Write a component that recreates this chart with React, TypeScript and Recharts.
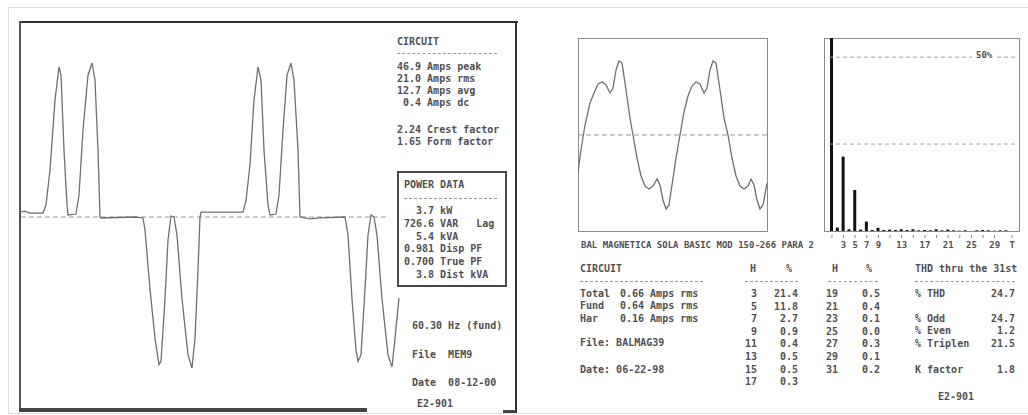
import React from 'react';
import { LineChart, Line, XAxis, YAxis, ReferenceLine, BarChart, Bar } from 'recharts';

// ---- Main current waveform (left panel), time in sample units, current in Amps
const mainTime = [0, 5, 10, 23, 26, 30, 35, 39, 41, 44, 47, 48, 56, 59, 63, 68, 72, 75, 78, 80, 81, 115, 123, 125, 130, 135, 139, 141, 145, 148, 151, 154, 157, 162, 168, 172, 175, 178, 180, 181, 223, 226, 230, 234, 238, 241, 244, 248, 250, 256, 259, 263, 267, 271, 274, 278, 280, 290, 300, 325, 328, 332, 336, 338, 341, 345, 348, 351, 354, 357, 362, 368, 372, 375, 379];
const mainAmps = [1.5, 1.8, 1.2, 1.2, 3.7, 14.3, 35.6, 45.7, 43.2, 20.4, 3.7, 0.6, 0.9, 6.7, 26.5, 43.2, 46.9, 41.7, 20.4, 0, -0.3, 0, -0.3, -4.0, -22.0, -37.0, -45.0, -44.0, -25.0, -7.0, 0.3, 0, -5.5, -25.0, -42.0, -46.0, -37.0, -16.0, 0, 1.5, 1.5, 5.0, 16.0, 35.6, 45.7, 41.7, 20.4, 3.7, 0.6, 0.9, 6.7, 26.5, 43.2, 46.9, 41.7, 20.4, 0, -0.6, -0.3, 0, -5.5, -25.0, -40.5, -44.0, -42.0, -22.0, -5.5, 0.6, 0, -5.5, -25.0, -42.0, -45.7, -37.0, -24.7];

// ---- Small voltage waveform (right panel)
const subTime = [0, 3, 7, 12, 16, 20, 24, 28, 32, 35, 38, 41, 44, 48, 52, 55, 59, 63, 67, 71, 75, 79, 82, 85, 88, 91, 94, 98, 102, 106, 110, 114, 118, 122, 126, 129, 132, 135, 138, 142, 146, 150, 154, 158, 162, 166, 170, 173, 176, 179, 182, 185, 189];
const subVolts = [-37, -15, 10, 32, 42, 51, 53, 50, 42, 47, 65, 74, 72, 45, 17, 0, -23, -41, -51, -54, -51, -44, -50, -65, -74, -70, -50, -23, 0, 23, 39, 49, 53, 51, 42, 47, 65, 74, 72, 45, 17, 0, -23, -41, -51, -54, -51, -44, -50, -65, -74, -70, -48];

// ---- Harmonic spectrum (% of fundamental)
const harmonicOrders = ['1', '2', '3', '4', '5', '6', '7', '8', '9', '10', '11', '12', '13', '14', '15', '16', '17', '18', '19', '20', '21', '22', '23', '24', '25', '26', '27', '28', '29', '30', '31', 'T'];
const harmonicPct = [100, 1.0, 21.4, 0.5, 11.8, 0.4, 2.7, 0.3, 0.9, 0.3, 0.4, 0.3, 0.5, 0.3, 0.5, 0.2, 0.3, 0.2, 0.5, 0.2, 0.4, 0.2, 0.1, 0.2, 0.0, 0.2, 0.3, 0.2, 0.1, 0.2, 0.2, 0];
const tickedOrders = ['1', '3', '5', '7', '9', '11', '13', '15', '17', '19', '21', '23', '25', '27', '29', 'T'];
const labelledOrders = ['3', '5', '7', '9', '13', '17', '21', '25', '29', 'T'];

// ---- Text tables
const circuitLines = ['46.9 Amps peak', '21.0 Amps rms', '12.7 Amps avg', ' 0.4 Amps dc'];
const factorLines = ['2.24 Crest factor', '1.65 Form factor'];
const powerLines = ['  3.7 kW', '726.6 VAR   Lag', '  5.4 kVA', '0.981 Disp PF', '0.700 True PF', '  3.8 Dist kVA'];
const ampsLabels = ['Total', 'Fund', 'Har'];
const ampsValues = ['0.66', '0.64', '0.16'];
const col1H = ['3', '5', '7', '9', '11', '13', '15', '17'];
const col1P = ['21.4', '11.8', '2.7', '0.9', '0.4', '0.5', '0.5', '0.3'];
const col2H = ['19', '21', '23', '25', '27', '29', '31'];
const col2P = ['0.5', '0.4', '0.1', '0.0', '0.3', '0.1', '0.2'];

const mainData = mainTime.map((t, i) => ({ t, amps: mainAmps[i] }));
const subData = subTime.map((t, i) => ({ t, v: subVolts[i] }));
const harmData = harmonicOrders.map((h, i) => ({ h, pct: harmonicPct[i] }));

const FONT = '"DejaVu Sans Mono", "Liberation Mono", monospace';
const INK = '#505050';

function T({ x, y, children, size = 10, right }: any) {
  const style: any = {
    position: 'absolute', top: y - 6, lineHeight: '12px', fontSize: size, fontFamily: FONT,
    color: INK, whiteSpace: 'pre', fontWeight: 'bold',
  };
  if (right) { style.right = 1028 - x; } else { style.left = x; }
  return <div style={style}>{children}</div>;
}

function Dash({ x1, x2, y }: any) {
  return <div style={{ position: 'absolute', left: x1, top: y, width: x2 - x1, borderTop: '1px dashed #9a9a9a' }} />;
}

function Box({ x, y, w, h, border }: any) {
  return <div style={{ position: 'absolute', left: x, top: y, width: w, height: h, border, boxSizing: 'border-box' }} />;
}

function HarmTick(props: any) {
  const { x, y, payload } = props;
  const v = payload.value;
  return (
    <g>
      {tickedOrders.includes(v) && <line x1={x} x2={x} y1={y + 4} y2={y + 7} stroke="#888" strokeWidth={1} />}
      {labelledOrders.includes(v) && (
        <text x={x} y={y + 17} textAnchor="middle" fontSize={9} fontFamily={FONT} fontWeight="bold" fill={INK}>{v}</text>
      )}
    </g>
  );
}

export default function App() {
  return (
    <div style={{ position: 'absolute', left: 0, top: 0, width: 1028, height: 415, background: '#fff', overflow: 'hidden' }}>
      {/* outer light frame */}
      <Box x={8} y={7} w={1024} h={407} border="1px solid #dcdcdc" />

      {/* left panel frame */}
      <div style={{ position: 'absolute', left: 19, top: 21, width: 499, height: 2, background: '#333' }} />
      <div style={{ position: 'absolute', left: 19, top: 21, width: 2, height: 390, background: '#555' }} />
      <div style={{ position: 'absolute', left: 515, top: 21, width: 2, height: 392, background: '#333' }} />
      <div style={{ position: 'absolute', left: 19, top: 408, width: 348, height: 4, background: '#444' }} />
      <div style={{ position: 'absolute', left: 503, top: 410, width: 13, height: 3, background: '#444' }} />

      {/* main waveform */}
      <div style={{ position: 'absolute', left: 20, top: 22 }}>
        <LineChart width={380} height={388} data={mainData} margin={{ top: 0, right: 0, bottom: 0, left: 0 }}>
          <XAxis type="number" dataKey="t" domain={[0, 380]} hide />
          <YAxis type="number" domain={[-58.8, 59.4]} hide allowDataOverflow />
          <ReferenceLine segment={[{ x: 1, y: 0 }, { x: 367, y: 0 }]} stroke="#9c9c9c" strokeDasharray="5 3" />
          <Line type="linear" dataKey="amps" stroke="#707070" strokeWidth={1.3} dot={false} isAnimationActive={false} />
        </LineChart>
      </div>

      {/* left text panel */}
      <T x={397} y={42}>CIRCUIT</T>
      <Dash x1={397} x2={497} y={53} />
      {circuitLines.map((s, i) => <T key={s} x={397} y={67 + i * 12}>{s}</T>)}
      {factorLines.map((s, i) => <T key={s} x={397} y={130 + i * 12}>{s}</T>)}
      <Box x={397} y={171} w={110} h={116} border="2px solid #4a4a4a" />
      <T x={404} y={185}>POWER DATA</T>
      <Dash x1={404} x2={497} y={198} />
      {powerLines.map((s, i) => <T key={s} x={404} y={211 + i * 12.8}>{s}</T>)}
      <T x={412} y={326}>60.30 Hz (fund)</T>
      <T x={412} y={355}>File  MEM9</T>
      <T x={412} y={383}>Date  08-12-00</T>
      <T x={417} y={404}>E2-901</T>

      {/* small waveform */}
      <Box x={578} y={38} w={190} h={194} border="1px solid #8a8a8a" />
      <div style={{ position: 'absolute', left: 578, top: 38 }}>
        <LineChart width={189} height={193} data={subData} margin={{ top: 0, right: 0, bottom: 0, left: 0 }}>
          <XAxis type="number" dataKey="t" domain={[0, 189]} hide />
          <YAxis type="number" domain={[-96, 97]} hide />
          <ReferenceLine y={0} stroke="#9c9c9c" strokeDasharray="5 3" />
          <Line type="linear" dataKey="v" stroke="#707070" strokeWidth={1.3} dot={false} isAnimationActive={false} />
        </LineChart>
      </div>

      {/* harmonic bars */}
      <Box x={824} y={38} w={196} h={194} border="1px solid #8a8a8a" />
      <div style={{ position: 'absolute', left: 829, top: 38 }}>
        <BarChart width={186} height={215} data={harmData} margin={{ top: 0, right: 0, bottom: 0, left: 0 }}>
          <XAxis dataKey="h" interval={0} tickSize={0} tickMargin={0} axisLine={false} height={22} tick={<HarmTick />} />
          <YAxis type="number" domain={[0, 55.5]} hide allowDataOverflow />
          <ReferenceLine y={25} stroke="#a0a0a0" strokeDasharray="4 3" />
          <ReferenceLine y={50} stroke="#a0a0a0" strokeDasharray="4 3" />
          <Bar dataKey="pct" fill="#111" barSize={3} isAnimationActive={false} />
        </BarChart>
      </div>
      <div style={{ position: 'absolute', left: 972, top: 50, padding: '0 4px', background: '#fff', fontSize: 9, lineHeight: '10px', fontFamily: FONT, fontWeight: 'bold', color: INK }}>50%</div>

      <T x={581} y={245} size={9}>BAL MAGNETICA SOLA BASIC MOD 150-266 PARA 2</T>

      {/* bottom tables */}
      <T x={580} y={269}>CIRCUIT</T>
      <Dash x1={580} x2={703} y={281} />
      {ampsLabels.map((s, i) => <T key={s} x={580} y={294 + i * 12.3}>{s}</T>)}
      {ampsValues.map((s, i) => <T key={s} x={620} y={294 + i * 12.3}>{s + ' Amps rms'}</T>)}
      <T x={580} y={343}>File: BALMAG39</T>
      <T x={580} y={370}>Date: 06-22-98</T>

      <T x={750} y={269}>H</T>
      <T x={786} y={269}>%</T>
      <Dash x1={745} x2={798} y={281} />
      {col1H.map((s, i) => <T key={'a' + s} x={757} y={294 + i * 12.6} right>{s}</T>)}
      {col1P.map((s, i) => <T key={'b' + i} x={798} y={294 + i * 12.6} right>{s}</T>)}

      <T x={832} y={269}>H</T>
      <T x={866} y={269}>%</T>
      <Dash x1={828} x2={878} y={281} />
      {col2H.map((s, i) => <T key={'c' + s} x={838} y={294 + i * 12.6} right>{s}</T>)}
      {col2P.map((s, i) => <T key={'d' + i} x={880} y={294 + i * 12.6} right>{s}</T>)}

      <T x={915} y={269}>THD thru the 31st</T>
      <Dash x1={915} x2={1015} y={281} />
      <T x={915} y={294}>% THD</T>
      <T x={1015} y={294} right>24.7</T>
      <T x={915} y={319}>% Odd</T>
      <T x={1015} y={319} right>24.7</T>
      <T x={915} y={331}>% Even</T>
      <T x={1015} y={331} right>1.2</T>
      <T x={915} y={344}>% Triplen</T>
      <T x={1015} y={344} right>21.5</T>
      <T x={915} y={370}>K factor</T>
      <T x={1015} y={370} right>1.8</T>
      <T x={938} y={397}>E2-901</T>
    </div>
  );
}
